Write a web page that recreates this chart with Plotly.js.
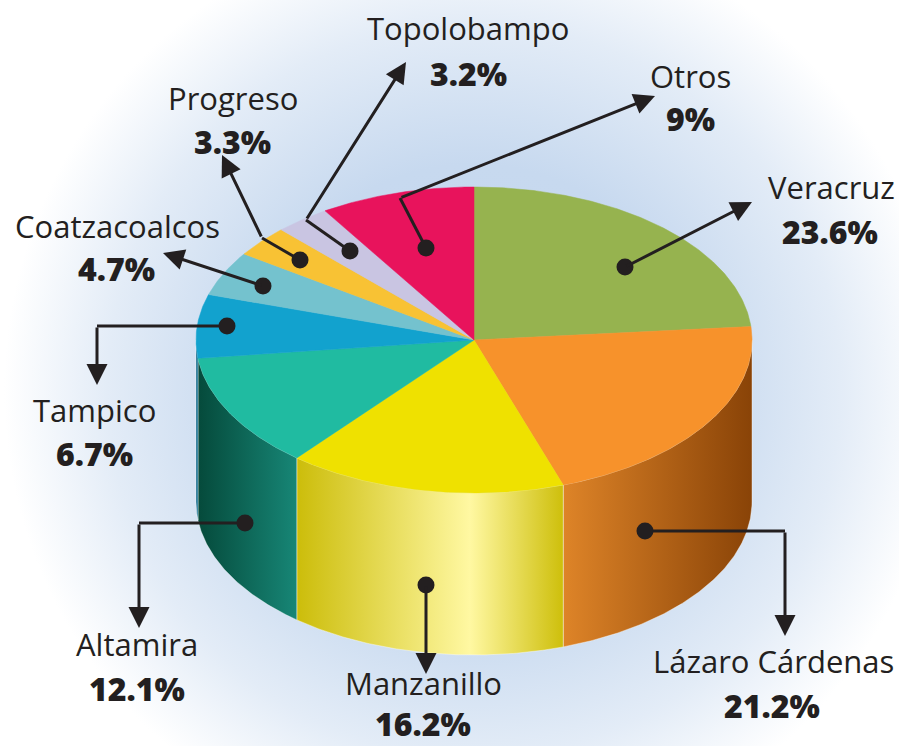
<!DOCTYPE html>
<html><head><meta charset="utf-8">
<script src="https://cdn.plot.ly/plotly-3.0.1.min.js"></script>
<style>
html,body{margin:0;padding:0;background:#fff;}
#chart{width:899px;height:746px;background:radial-gradient(ellipse 470px 470px at 474px 390px,#c3d6ee 0%,#c7d9ef 48%,#e3ecf7 78%,#ffffff 100%);}
</style></head><body><div id="chart"></div>
<script>
// ---- data ----
const ports = ['Veracruz','Lázaro Cárdenas','Manzanillo','Altamira','Tampico','Coatzacoalcos','Progreso','Topolobampo','Otros'];
const shares = [23.6,21.2,16.2,12.1,6.7,4.7,3.3,3.2,9];
const shareLabels = ['23.6%','21.2%','16.2%','12.1%','6.7%','4.7%','3.3%','3.2%','9%'];

// ---- styles ----
const topColors = ['#96b34f','#f7922b','#efe100','#20bba1','#12a2ce','#74c2ce','#f8c234','#c9c5e2','#e8135c'];
const wallScales = [
  [[0,'#6e8a30'],[1,'#4e6a18']],
  [[0,'#de8428'],[1,'#894307']],
  [[0,'#ccbd0a'],[0.65,'#fff8a2'],[1,'#cebf0b']],
  [[0,'#054a3b'],[1,'#178676']],
  [[0,'#0a5f80'],[1,'#0a6f94']],
  [[0,'#4a8a94'],[1,'#4a8a94']],
  [[0,'#b08a10'],[1,'#b08a10']],
  [[0,'#8a86a8'],[1,'#8a86a8']],
  [[0,'#a00d40'],[1,'#a00d40']]
];
const CX=474, CY=340, RX=278, RY=153, DEPTH=162;
const INK='#231f20';

// label layout (pixel positions); pct labels anchored by [x, y, yanchor]
const namePos = [[831,187],[773,661],[423,683],[137,644],[94,410],[117,226],[233,98],[468,28],[690,76]];
const pctPos  = [[830,231,'middle'],[772,705,'middle'],[423,746,'bottom'],[137,688,'middle'],[94,453,'middle'],[116,268,'middle'],[232,141,'middle'],[468,73,'middle'],[690,118,'middle']];
const leaders = [
  {path:[[625,267]], tip:[752,202]},
  {path:[[645,531],[785,531]], tip:[785,636]},
  {path:[[426,585]], tip:[426,674]},
  {path:[[245,523],[139,523]], tip:[139,628]},
  {path:[[227,326],[97,326]], tip:[97,385]},
  {path:[[263,286]], tip:[163,253]},
  {path:[[300,260],[262,238]], tip:[222,155]},
  {path:[[350,251],[306,220]], tip:[406,62]},
  {path:[[426,248],[400,198]], tip:[655,96]}
];

function pt(t,dy){return [CX+RX*Math.sin(t), CY-RY*Math.cos(t)+(dy||0)];}
const total = shares.reduce((a,b)=>a+b,0);
const walls=[], tops=[];
let cum=0;
shares.forEach((v,i)=>{
  const a0=cum/total*2*Math.PI; cum+=v; const a1=cum/total*2*Math.PI;
  const n=Math.max(2,Math.ceil((a1-a0)/(Math.PI/360)));
  const xs=[CX], ys=[CY];
  for(let k=0;k<=n;k++){const p=pt(a0+(a1-a0)*k/n); xs.push(p[0]); ys.push(p[1]);}
  xs.push(CX); ys.push(CY);
  tops.push({type:'scatter',mode:'lines',x:xs,y:ys,fill:'toself',fillcolor:topColors[i],
    line:{width:0.5,color:topColors[i]},hoverinfo:'skip',showlegend:false});
  const w0=Math.max(a0,Math.PI/2), w1=Math.min(a1,1.5*Math.PI);
  if(w1>w0){
    const m=Math.max(2,Math.ceil((w1-w0)/(Math.PI/360)));
    const wx=[], wy=[];
    for(let k=0;k<=m;k++){const p=pt(w0+(w1-w0)*k/m); wx.push(p[0]); wy.push(p[1]);}
    for(let k=m;k>=0;k--){const p=pt(w0+(w1-w0)*k/m,DEPTH); wx.push(p[0]); wy.push(p[1]);}
    wx.push(wx[0]); wy.push(wy[0]);
    walls.push({type:'scatter',mode:'lines',x:wx,y:wy,fill:'toself',
      fillgradient:{type:'horizontal',colorscale:wallScales[i]},
      line:{width:0.8,color:'rgba(255,255,255,0.5)'},hoverinfo:'skip',showlegend:false});
  }
});

const lineTraces=[], dotsX=[], dotsY=[];
const annotations=[];
leaders.forEach((L,i)=>{
  dotsX.push(L.path[0][0]); dotsY.push(L.path[0][1]);
  if(L.path.length>1){
    lineTraces.push({type:'scatter',mode:'lines',x:L.path.map(p=>p[0]),y:L.path.map(p=>p[1]),
      line:{width:3,color:INK},hoverinfo:'skip',showlegend:false});
  }
  const tail=L.path[L.path.length-1];
  annotations.push({x:L.tip[0],y:L.tip[1],ax:tail[0],ay:tail[1],xref:'x',yref:'y',axref:'x',ayref:'y',
    text:'',showarrow:true,arrowhead:2,arrowsize:1.4,arrowwidth:3,arrowcolor:INK,standoff:0,startstandoff:0});
  annotations.push({x:namePos[i][0],y:namePos[i][1],xref:'x',yref:'y',text:ports[i],showarrow:false,
    xanchor:'center',yanchor:'middle',font:{family:'Open Sans',size:31,color:INK}});
  annotations.push({x:pctPos[i][0],y:pctPos[i][1],xref:'x',yref:'y',text:shareLabels[i],showarrow:false,
    xanchor:'center',yanchor:pctPos[i][2],borderpad:0,font:{family:'Open Sans',size:32,weight:800,color:INK}});
});
const dots={type:'scatter',mode:'markers',x:dotsX,y:dotsY,marker:{size:17,color:INK},hoverinfo:'skip',showlegend:false};

const layout={width:899,height:746,margin:{l:0,r:0,t:0,b:0},
  paper_bgcolor:'rgba(0,0,0,0)',plot_bgcolor:'rgba(0,0,0,0)',
  xaxis:{range:[0,899],visible:false,fixedrange:true},
  yaxis:{range:[746,0],visible:false,fixedrange:true},
  annotations:annotations,showlegend:false};
Plotly.newPlot('chart',[...walls,...tops,...lineTraces,dots],layout,{displayModeBar:false,staticPlot:true});
</script></body></html>
